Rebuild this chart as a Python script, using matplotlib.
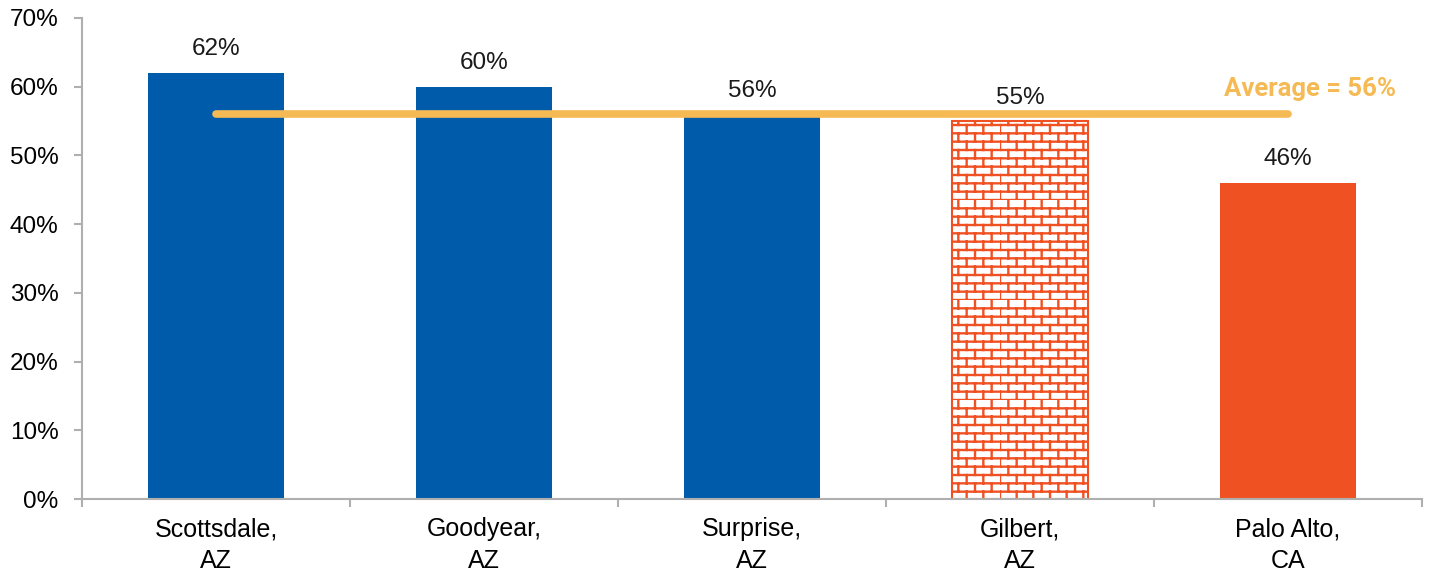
import warnings
import numpy as np
import matplotlib
matplotlib.use("Agg")
import matplotlib.pyplot as plt
from matplotlib import hatch as mhatch
from matplotlib.path import Path
from matplotlib.ticker import PercentFormatter, FixedLocator

warnings.filterwarnings("ignore")

cities = ["Scottsdale,\nAZ", "Goodyear,\nAZ", "Surprise,\nAZ", "Gilbert,\nAZ", "Palo Alto,\nCA"]
values = [62, 60, 56, 55, 46]
average = 56

blue = "#005BAA"
orange = "#F05123"
gold = "#F6BA55"


# brick hatch: horizontal courses with staggered vertical joints
class BrickHatch(mhatch.HatchPatternBase):
    rows = 12
    cols = 6

    def __init__(self, hatch, density):
        self.active = hatch.count("b") > 0
        self.num_vertices = (self.rows + self.rows * self.cols) * 2 if self.active else 0

    def set_vertices_and_codes(self, vertices, codes):
        h = 1.0 / self.rows
        w = 1.0 / self.cols
        v = []
        for r in range(self.rows):
            v.append((0.0, r * h))
            v.append((1.0, r * h))
        for r in range(self.rows):
            shift = 0.0 if r % 2 == 0 else w / 2
            for c in range(self.cols):
                xj = c * w + shift
                v.append((xj, r * h))
                v.append((xj, r * h + h))
        vertices[:] = np.array(v)
        codes[0::2] = Path.MOVETO
        codes[1::2] = Path.LINETO


mhatch._hatch_types.append(BrickHatch)

plt.rcParams["font.family"] = ["Liberation Sans", "DejaVu Sans"]
plt.rcParams["hatch.linewidth"] = 1.7

fig = plt.figure(figsize=(14.3, 5.77), dpi=100)
ax = fig.add_axes([82 / 1430, 78 / 577, 1340 / 1430, 481 / 577])

x = np.arange(len(cities))
colors = [blue, blue, blue, "white", orange]
bars = ax.bar(x, values, width=0.51, color=colors, zorder=2)
bars[3].set_edgecolor(orange)
bars[3].set_hatch("b")
bars[3].set_linewidth(1.5)

for xi, v in zip(x, values):
    ax.annotate(f"{v}%", (xi, v), xytext=(0, 9), textcoords="offset points",
                ha="center", va="bottom", fontsize=17.5, color="#1a1a1a")

ax.plot([x[0], x[-1]], [average, average], color=gold, lw=5.5,
        solid_capstyle="round", zorder=3)
ax.annotate(f"Average = {average}%", (x[-1], average), xytext=(16, 18),
            textcoords="offset points", ha="center", va="center",
            fontsize=18.5, fontweight="bold", color=gold,
            family=["Roboto", "DejaVu Sans"])

ax.set_xlim(-0.5, len(cities) - 0.5)
ax.set_ylim(0, 70)
ax.yaxis.set_major_locator(FixedLocator(np.arange(0, 71, 10)))
ax.yaxis.set_major_formatter(PercentFormatter(decimals=0))
ax.set_xticks(x)
ax.set_xticklabels(cities, linespacing=1.4)
ax.xaxis.set_minor_locator(FixedLocator(np.arange(-0.5, len(cities), 1.0)))

for s in ["top", "right"]:
    ax.spines[s].set_visible(False)
for s in ["left", "bottom"]:
    ax.spines[s].set_color("#AFAFAF")
    ax.spines[s].set_linewidth(1.5)

ax.tick_params(axis="y", length=6, width=1.5, color="#AFAFAF", labelsize=17.5, pad=11)
ax.tick_params(axis="x", which="major", length=0, labelsize=18, pad=13)
ax.tick_params(axis="x", which="minor", length=6, width=1.5, color="#AFAFAF")

fig.savefig("out.png", dpi=100)
